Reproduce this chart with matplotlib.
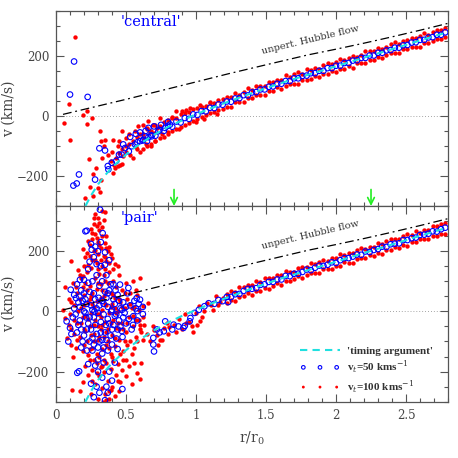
import matplotlib
matplotlib.use('Agg')
import matplotlib.pyplot as plt
from matplotlib.ticker import MultipleLocator, FuncFormatter

# ---- data ----
# 'timing argument' curve and unperturbed Hubble flow (same in both panels)
timing_r = [0.21, 0.25, 0.30, 0.35, 0.40, 0.45, 0.50, 0.55, 0.60, 0.70, 0.80, 0.90, 1.00,
            1.10, 1.20, 1.30, 1.40, 1.50, 1.60, 1.80, 2.00, 2.20, 2.40, 2.60, 2.80]
timing_v = [-300, -265, -228, -198, -172, -150, -129, -110, -93, -63, -37, -15, 5,
            24, 42, 59, 76, 92, 108, 137, 165, 194, 222, 251, 279]
hubble_r = [0.05, 0.5, 1.0, 1.23, 1.5, 1.8, 2.0, 2.2, 2.4, 2.6, 2.8]
hubble_v = [5, 55, 113, 140, 170, 203, 222, 242, 263, 285, 308]
arrow_r = [0.843, 2.25]

# dense band of points along the curve
band_r = [0.62, 0.65, 0.68, 0.71, 0.74, 0.77, 0.80, 0.83, 0.86, 0.89, 0.92, 0.95, 0.98, 1.01,
          1.04, 1.07, 1.10, 1.13, 1.16, 1.19, 1.22, 1.25, 1.28, 1.31, 1.34, 1.37, 1.40, 1.43,
          1.46, 1.49, 1.52, 1.55, 1.58, 1.61, 1.64, 1.67, 1.70, 1.73, 1.76, 1.79, 1.82, 1.85,
          1.88, 1.91, 1.94, 1.97, 2.00, 2.03, 2.06, 2.09, 2.12, 2.15, 2.18, 2.21, 2.24, 2.27,
          2.30, 2.33, 2.36, 2.39, 2.42, 2.45, 2.48, 2.51, 2.54, 2.57, 2.60, 2.63, 2.66, 2.69,
          2.72, 2.75, 2.78]

central_blue_band = [-82, -84, -64, -66, -47, -50, -33, -36, -19, -22, -7, -10, 5, 3, 16, 15,
                     27, 26, 38, 37, 48, 47, 58, 59, 69, 68, 78, 79, 88, 88, 97, 98, 107, 107,
                     116, 116, 125, 125, 133, 134, 142, 142, 150, 150, 159, 159, 167, 167, 176,
                     176, 184, 185, 193, 193, 201, 201, 210, 210, 218, 219, 227, 227, 235, 236,
                     244, 245, 253, 253, 261, 262, 270, 270, 278]
central_red_hi = [-60, -45, -50, -30, -35, -20, -15, -5, -8, 5, 8, 12, 22, 25, 30, 33, 42, 44,
                  52, 55, 62, 62, 76, 71, 81, 93, 87, 99, 99, 99, 114, 114, 121, 120, 135, 130,
                  138, 145, 141, 156, 153, 161, 157, 168, 176, 173, 179, 190, 185, 193, 200,
                  197, 204, 215, 215, 215, 227, 223, 230, 238, 247, 239, 248, 251, 260, 259,
                  267, 275, 270, 278, 285, 285, 291]
central_red_lo = [-110, -100, -95, -85, -75, -70, -55, -50, -45, -38, -30, -25, -18, -12, -5,
                  2, 8, 12, 20, 24, 31, 31, 45, 45, 45, 59, 58, 71, 71, 70, 82, 83, 96, 90,
                  100, 107, 107, 105, 119, 121, 122, 134, 128, 139, 141, 150, 146, 155, 157,
                  166, 161, 177, 176, 177, 186, 187, 197, 192, 202, 209, 208, 210, 223, 223,
                  229, 229, 230, 244, 243, 250, 256, 255, 261]

# 'pair' band starts at r = 1.22 (band_r[20:])
pair_blue_band = [48, 48, 57, 58, 68, 75, 75, 77, 88, 90, 98, 98, 106, 106, 118, 117, 125,
                  125, 131, 139, 137, 145, 152, 151, 155, 163, 161, 170, 177, 177, 182, 189,
                  188, 199, 197, 204, 207, 215, 214, 223, 225, 226, 237, 237, 243, 245, 254,
                  255, 258, 266, 265, 273, 278]
pair_red_hi = [57, 68, 66, 82, 80, 87, 87, 100, 99, 112, 110, 110, 122, 121, 134, 132, 132,
               145, 147, 147, 161, 157, 163, 171, 167, 178, 177, 191, 188, 194, 193, 205, 211,
               208, 214, 213, 227, 224, 233, 242, 239, 240, 249, 256, 255, 267, 261, 270, 271,
               283, 282, 289, 292]
pair_red_lo = [27, 39, 36, 48, 50, 61, 54, 67, 69, 78, 76, 85, 94, 88, 101, 100, 107, 117,
               111, 122, 128, 127, 129, 141, 142, 140, 152, 151, 164, 162, 162, 175, 177, 178,
               188, 184, 193, 190, 203, 205, 215, 211, 219, 218, 230, 230, 240, 240, 240, 251,
               252, 258, 258]

# scattered points, (r/r0, v)
central_red_pts = [
    (0.136, 261), (0.09, 38), (0.057, -23), (0.1, -80), (0.19, 2), (0.224, 15), (0.255, -6),
    (0.224, -26), (0.314, -51), (0.321, -84), (0.345, -101), (0.35, -79), (0.238, -143),
    (0.405, -81), (0.331, -141), (0.262, -193), (0.286, -173), (0.319, -212), (0.209, -272),
    (0.267, -267), (0.298, -239), (0.314, -255), (0.243, -237), (0.417, -162), (0.41, -190),
    (0.44, -167), (0.469, -160), (0.469, -51), (0.5, -73), (0.5, -101), (0.564, -51),
    (0.588, -35), (0.62, -29), (0.66, -18), (0.69, -32), (0.7, -56), (0.72, -40), (0.74, -7),
    (0.83, -8), (0.86, 15), (0.9, 15), (0.93, 20), (0.37, -130), (0.39, -150), (0.42, -175),
    (0.43, -140), (0.44, -100), (0.45, -125), (0.46, -165), (0.47, -110), (0.48, -135),
    (0.5, -120), (0.52, -95), (0.53, -130), (0.55, -85), (0.57, -105), (0.58, -70), (0.6, -60),
    (0.63, -75), (0.65, -40), (0.67, -55), (0.76, -60), (0.8, -60), (0.88, -45), (0.96, 25),
    (1.0, -20), (1.03, 35), (1.06, -10), (1.1, 45), (1.15, 5), (0.4, -120), (0.55, -140),
    (0.6, -120), (0.52, -60), (0.58, -110), (0.64, -95), (0.68, -100), (0.71, -85), (0.45, -85)]
central_blue_pts = [
    (0.129, 181), (0.10, 71), (0.226, 63), (0.31, -108), (0.35, -115), (0.164, -195),
    (0.148, -225), (0.124, -232), (0.279, -212), (0.374, -178), (0.398, -156), (0.37, -167),
    (0.43, -150), (0.45, -129), (0.469, -129), (0.493, -107), (0.54, -101), (0.564, -95),
    (0.6, -84), (0.624, -79), (0.66, -71), (0.683, -68), (0.731, -51), (0.779, -40),
    (0.814, -29), (0.636, -68), (0.48, -95), (0.53, -70), (0.57, -60), (0.6, -55),
    (0.64, -50), (0.66, -40), (0.7, -35), (0.75, -30), (0.8, -20), (0.52, -118), (0.58, -88)]

pair_red_pts = [
    # upper plume
    (0.33, 335), (0.35, 330), (0.30, 310), (0.34, 305), (0.27, 290), (0.29, 282), (0.25, 275),
    (0.31, 270), (0.28, 258), (0.33, 250), (0.26, 240), (0.30, 232), (0.35, 228), (0.24, 220),
    (0.32, 212), (0.28, 205), (0.37, 200), (0.22, 195), (0.30, 190), (0.34, 185), (0.40, 178),
    (0.26, 172), (0.36, 168), (0.29, 160), (0.42, 158), (0.23, 155), (0.33, 150), (0.19, 207),
    (0.105, 166), (0.38, 215), (0.27, 310), (0.36, 250), (0.21, 180), (0.39, 190),
    (0.28, 325), (0.31, 295), (0.26, 262), (0.33, 280), (0.29, 245), (0.36, 210), (0.23, 235),
    (0.31, 220), (0.27, 200), (0.38, 160), (0.24, 185), (0.32, 170), (0.41, 140), (0.20, 150),
    (0.35, 180), (0.30, 140), (0.44, 150), (0.28, 170),
    # core
    (0.052, 6), (0.067, 81), (0.064, -22), (0.076, -89), (0.09, 40), (0.10, -10), (0.11, -60),
    (0.12, 95), (0.13, 20), (0.14, -120), (0.15, 60), (0.15, -40), (0.16, 138), (0.17, -85),
    (0.18, 10), (0.18, 110), (0.19, -130), (0.195, 116), (0.20, -60), (0.20, 55), (0.21, -15),
    (0.22, 130), (0.22, -100), (0.23, 30), (0.23, -145), (0.24, 85), (0.24, -50), (0.25, -5),
    (0.25, 145), (0.26, -120), (0.26, 60), (0.27, -75), (0.27, 15), (0.28, 110), (0.28, -30),
    (0.29, -140), (0.29, 75), (0.30, -95), (0.30, 35), (0.31, -10), (0.31, 125), (0.32, -60),
    (0.32, 90), (0.33, -125), (0.33, 5), (0.34, 50), (0.34, -85), (0.35, 140), (0.35, -35),
    (0.36, 20), (0.36, -110), (0.37, 95), (0.37, -60), (0.38, -5), (0.38, 130), (0.39, -140),
    (0.39, 60), (0.40, -80), (0.40, 25), (0.41, 100), (0.41, -30), (0.42, -115), (0.42, 45),
    (0.43, -55), (0.43, 80), (0.44, 0), (0.45, -95), (0.45, 120), (0.46, 30), (0.47, -40),
    (0.47, 70), (0.48, -130), (0.49, 10), (0.50, -70), (0.50, 95), (0.51, 40), (0.52, -20),
    (0.53, -100), (0.53, 60), (0.55, 100), (0.55, -50), (0.56, 15), (0.57, -85), (0.58, 55),
    (0.59, -30), (0.60, 111), (0.60, -60), (0.62, 17), (0.62, -20), (0.63, -45), (0.32, -20),
    (0.34, -160), (0.27, -160), (0.22, 70), (0.16, 0), (0.12, -150),
    (0.17, 120), (0.14, 80), (0.11, 30), (0.13, -30), (0.19, -20), (0.21, 95), (0.24, 40),
    (0.27, -100), (0.30, -50), (0.33, 70), (0.36, -70), (0.39, 15), (0.42, -90), (0.45, 40),
    (0.48, -60), (0.51, -110), (0.54, 10), (0.57, 70), (0.20, -110), (0.25, -80), (0.29, -10),
    (0.35, 100), (0.38, -120), (0.44, -40), (0.49, 60), (0.56, -120), (0.31, -150),
    (0.15, -95), (0.17, 40), (0.19, 80), (0.21, -65), (0.23, -25), (0.25, 50), (0.27, -45),
    (0.29, 35), (0.31, -85), (0.33, -45), (0.35, 25), (0.37, -100), (0.39, -40), (0.41, 55),
    (0.43, -5), (0.45, -60), (0.47, 15), (0.49, -100), (0.51, -40), (0.53, 25), (0.55, -15),
    (0.57, -30), (0.59, 5), (0.13, -75), (0.11, -110), (0.09, -45), (0.24, -125), (0.32, 45),
    (0.34, 120), (0.40, -150), (0.46, -140), (0.30, 95), (0.36, 65), (0.42, 10), (0.26, 25),
    (0.20, 20), (0.18, -40), (0.50, -160), (0.54, -140), (0.58, -100),
    # lower part
    (0.112, -260), (0.171, -266), (0.195, -233), (0.21, -180), (0.23, -210), (0.25, -275),
    (0.26, -195), (0.28, -240), (0.29, -170), (0.30, -290), (0.31, -215), (0.32, -185),
    (0.33, -255), (0.34, -200), (0.35, -275), (0.36, -170), (0.37, -230), (0.38, -290),
    (0.39, -190), (0.40, -250), (0.41, -165), (0.42, -280), (0.43, -210), (0.44, -175),
    (0.46, -235), (0.47, -195), (0.48, -160), (0.50, -215), (0.52, -180), (0.54, -240),
    (0.56, -170), (0.58, -205), (0.60, -225), (0.61, -172), (0.375, -266), (0.335, -300),
    (0.24, -160), (0.45, -265), (0.26, -230), (0.33, -180), (0.39, -260), (0.44, -230),
    (0.29, -205), (0.36, -295),
    # towards the band
    (0.66, 28), (0.6, -45), (0.61, -70), (0.62, -95), (0.69, -50), (0.7, -62), (0.72, -80),
    (0.74, -95), (0.79, -37), (0.81, -52), (0.8, -75), (0.76, -95), (0.84, -45), (0.97, -50),
    (0.98, -67), (1.02, 17), (1.04, -20), (1.03, -33), (1.08, 28), (1.11, 22), (1.16, 20),
    (1.17, 30), (1.14, 50), (1.23, 52), (0.88, -25), (0.92, -10), (0.95, -35), (1.0, -5),
    (1.06, 0), (1.12, 5), (1.19, 45), (0.65, -75), (0.67, -100), (0.86, -70), (0.9, -60),
    (0.93, -40), (0.73, -110), (0.77, -55), (1.01, -45)]
pair_blue_pts = [
    (0.314, 338), (0.333, 260), (0.219, 268), (0.25, 224), (0.255, 205), (0.35, 196),
    (0.29, 157), (0.32, 150), (0.21, 266), (0.27, 180), (0.38, 170), (0.23, 140), (0.36, 120),
    (0.3, 200), (0.076, -33), (0.1, -55), (0.088, -100), (0.105, 72), (0.143, 44), (0.167, 49),
    (0.171, 105), (0.457, 89), (0.517, 78), (0.576, 44), (0.6, 39), (0.581, 1), (0.552, -16),
    (0.12, -20), (0.13, 10), (0.15, -70), (0.16, 30), (0.17, -30), (0.18, 70), (0.19, -100),
    (0.2, 0), (0.21, 40), (0.22, -60), (0.23, 95), (0.24, -20), (0.25, 20), (0.26, -90),
    (0.27, 60), (0.28, -45), (0.29, 10), (0.3, -120), (0.31, 85), (0.32, -70), (0.33, 35),
    (0.34, -10), (0.35, 65), (0.36, -95), (0.37, 15), (0.38, -40), (0.39, 90), (0.40, -60),
    (0.41, 40), (0.42, -15), (0.43, -90), (0.44, 55), (0.45, -30), (0.46, 10), (0.47, -65),
    (0.48, 30), (0.49, -5), (0.5, -40), (0.51, 60), (0.53, 20), (0.54, -60), (0.56, 35),
    (0.58, -30), (0.2, 105), (0.26, -130), (0.33, -140), (0.15, 90), (0.11, -75), (0.215, -20),
    (0.275, 0), (0.305, 45), (0.355, -45), (0.395, 0), (0.425, 70), (0.475, -85),
    (0.14, -10), (0.16, -45), (0.17, 15), (0.18, -60), (0.19, 35), (0.2, -80), (0.21, -5),
    (0.22, 25), (0.23, -40), (0.24, 65), (0.25, -60), (0.26, 5), (0.27, -20), (0.28, 40),
    (0.29, -75), (0.3, -5), (0.31, 20), (0.32, -35), (0.33, -95), (0.34, 25), (0.35, -70),
    (0.36, 45), (0.37, -25), (0.38, 70), (0.39, -80), (0.4, 5), (0.41, -45), (0.42, 25),
    (0.43, -10), (0.44, -60), (0.45, 35), (0.46, -50), (0.47, 5), (0.48, -20), (0.5, 15),
    (0.52, -25), (0.55, -45), (0.57, 10), (0.59, 25), (0.13, 55), (0.18, -120), (0.22, -130),
    (0.24, -100), (0.27, -110), (0.31, -100), (0.34, -120), (0.37, -130), (0.4, -110),
    (0.44, -125), (0.2, 60), (0.26, 100), (0.29, 120), (0.33, 100), (0.37, 60), (0.41, 90),
    (0.32, 230), (0.28, 215), (0.35, 155), (0.24, 165),
    (0.152, -204), (0.165, -199), (0.474, -258), (0.25, -240), (0.28, -180), (0.31, -270),
    (0.33, -220), (0.35, -295), (0.36, -250), (0.38, -200), (0.27, -285), (0.42, -170),
    (0.3, -160), (0.4, -230), (0.23, -175), (0.3, -200), (0.34, -170), (0.37, -270),
    (0.29, -250),
    (0.62, 15), (0.62, -9), (0.695, -88), (0.695, -110), (0.70, -133), (0.78, -33),
    (0.77, -66), (0.84, -44), (0.83, -60), (0.875, -50), (0.91, -55), (0.92, -48), (0.96, -22),
    (0.955, -33), (1.06, 17), (1.09, 27), (1.19, 34), (1.23, 31), (0.72, -60), (0.74, -70),
    (0.99, -5), (1.02, 5), (1.13, 25), (1.16, 38)]

# ---- style ----
plt.rcParams['font.family'] = 'DejaVu Serif'
plt.rcParams['mathtext.fontset'] = 'dejavuserif'
GREY = '#555555'
RED = '#ff0000'
BLUE = '#0000ff'
CYAN = '#20e0e0'
S_RED = 10
S_BLUE = 16

fig = plt.figure(figsize=(4.58, 4.58), dpi=100)
ax_top = fig.add_axes([0.1223, 0.5502, 0.8559, 0.4264])
ax_bot = fig.add_axes([0.1223, 0.1229, 0.8559, 0.4273], sharex=ax_top)


def style_axes(ax):
    ax.set_xlim(0, 2.8)
    ax.set_ylim(-300, 350)
    ax.xaxis.set_major_locator(MultipleLocator(0.5))
    ax.xaxis.set_minor_locator(MultipleLocator(0.1))
    ax.yaxis.set_major_locator(MultipleLocator(200))
    ax.yaxis.set_minor_locator(MultipleLocator(50))
    ax.xaxis.set_major_formatter(FuncFormatter(lambda x, p: '%g' % x))
    ax.tick_params(which='both', direction='in', top=True, right=True,
                   color=GREY, labelcolor='#444444', labelsize=8.5, width=0.8)
    ax.tick_params(which='major', length=6, pad=5)
    ax.tick_params(which='minor', length=3)
    for sp in ax.spines.values():
        sp.set_color(GREY)
        sp.set_linewidth(0.9)
    ax.set_ylabel('v (km/s)', fontsize=10, color='#444444', labelpad=1)


def draw_common(ax):
    ax.plot([0.05, 2.8], [0, 0], color='#888888', lw=0.6, ls=(0, (1, 2.5)), zorder=1)
    ax.plot(hubble_r, hubble_v, color='black', lw=0.9, dashes=(7, 3, 1.5, 3), zorder=5)
    ax.text(1.82, 253, 'unpert. Hubble flow', rotation=13.5, fontsize=7,
            color='#333333', ha='center', va='center')


# top panel: 'central'
ax = ax_top
style_axes(ax)
draw_common(ax)
cr, cv = zip(*central_red_pts)
ax.scatter(cr, cv, s=S_RED, color=RED, lw=0, zorder=2)
ax.scatter(band_r, central_red_hi, s=S_RED, color=RED, lw=0, zorder=2)
ax.scatter(band_r, central_red_lo, s=S_RED, color=RED, lw=0, zorder=2)
cbr, cbv = zip(*central_blue_pts)
ax.scatter(cbr, cbv, s=S_BLUE, facecolors='none', edgecolors=BLUE, lw=0.8, zorder=3)
ax.scatter(band_r, central_blue_band, s=S_BLUE, facecolors='none', edgecolors=BLUE,
           lw=0.8, zorder=3)
ax.plot(timing_r, timing_v, color=CYAN, lw=1.5, dashes=(3.5, 2.5), zorder=4)
for r in arrow_r:
    ax.annotate('', xy=(r, -300), xytext=(r, -245),
                arrowprops=dict(arrowstyle='->', color='#22ee22', lw=1.2,
                                shrinkA=0, shrinkB=0, mutation_scale=12))
ax.text(0.465, 314, "'central'", color=BLUE, fontsize=10.5, ha='left', va='center')
ax.tick_params(labelbottom=False)

# bottom panel: 'pair'
ax = ax_bot
style_axes(ax)
draw_common(ax)
pr, pv = zip(*pair_red_pts)
ax.scatter(pr, pv, s=S_RED, color=RED, lw=0, zorder=2)
ax.scatter(band_r[20:], pair_red_hi, s=S_RED, color=RED, lw=0, zorder=2)
h_red = ax.scatter(band_r[20:], pair_red_lo, s=S_RED, color=RED, lw=0, zorder=2)
pbr, pbv = zip(*pair_blue_pts)
ax.scatter(pbr, pbv, s=S_BLUE, facecolors='none', edgecolors=BLUE, lw=0.8, zorder=3)
h_blue = ax.scatter(band_r[20:], pair_blue_band, s=S_BLUE, facecolors='none',
                    edgecolors=BLUE, lw=0.8, zorder=3)
h_cyan, = ax.plot(timing_r, timing_v, color=CYAN, lw=1.5, dashes=(3.5, 2.5), zorder=4)
ax.text(0.465, 310, "'pair'", color=BLUE, fontsize=10.5, ha='left', va='center')
ax.set_xlabel('r/r$_0$', fontsize=10, color='#444444', labelpad=6)

leg = ax.legend([h_cyan, h_blue, h_red],
                ["'timing argument'", 'v$_t$=50 kms$^{-1}$', 'v$_t$=100 kms$^{-1}$'],
                loc='lower right', bbox_to_anchor=(0.975, 0.005), frameon=False,
                scatterpoints=3, scatteryoffsets=[0.5], markerscale=0.65,
                handlelength=3.6, handletextpad=0.6, labelspacing=0.3, borderpad=0,
                prop={'family': 'Liberation Serif', 'size': 8, 'weight': 'bold'})
for t in leg.get_texts():
    t.set_color('#333333')

fig.savefig('out.png', dpi=100)
